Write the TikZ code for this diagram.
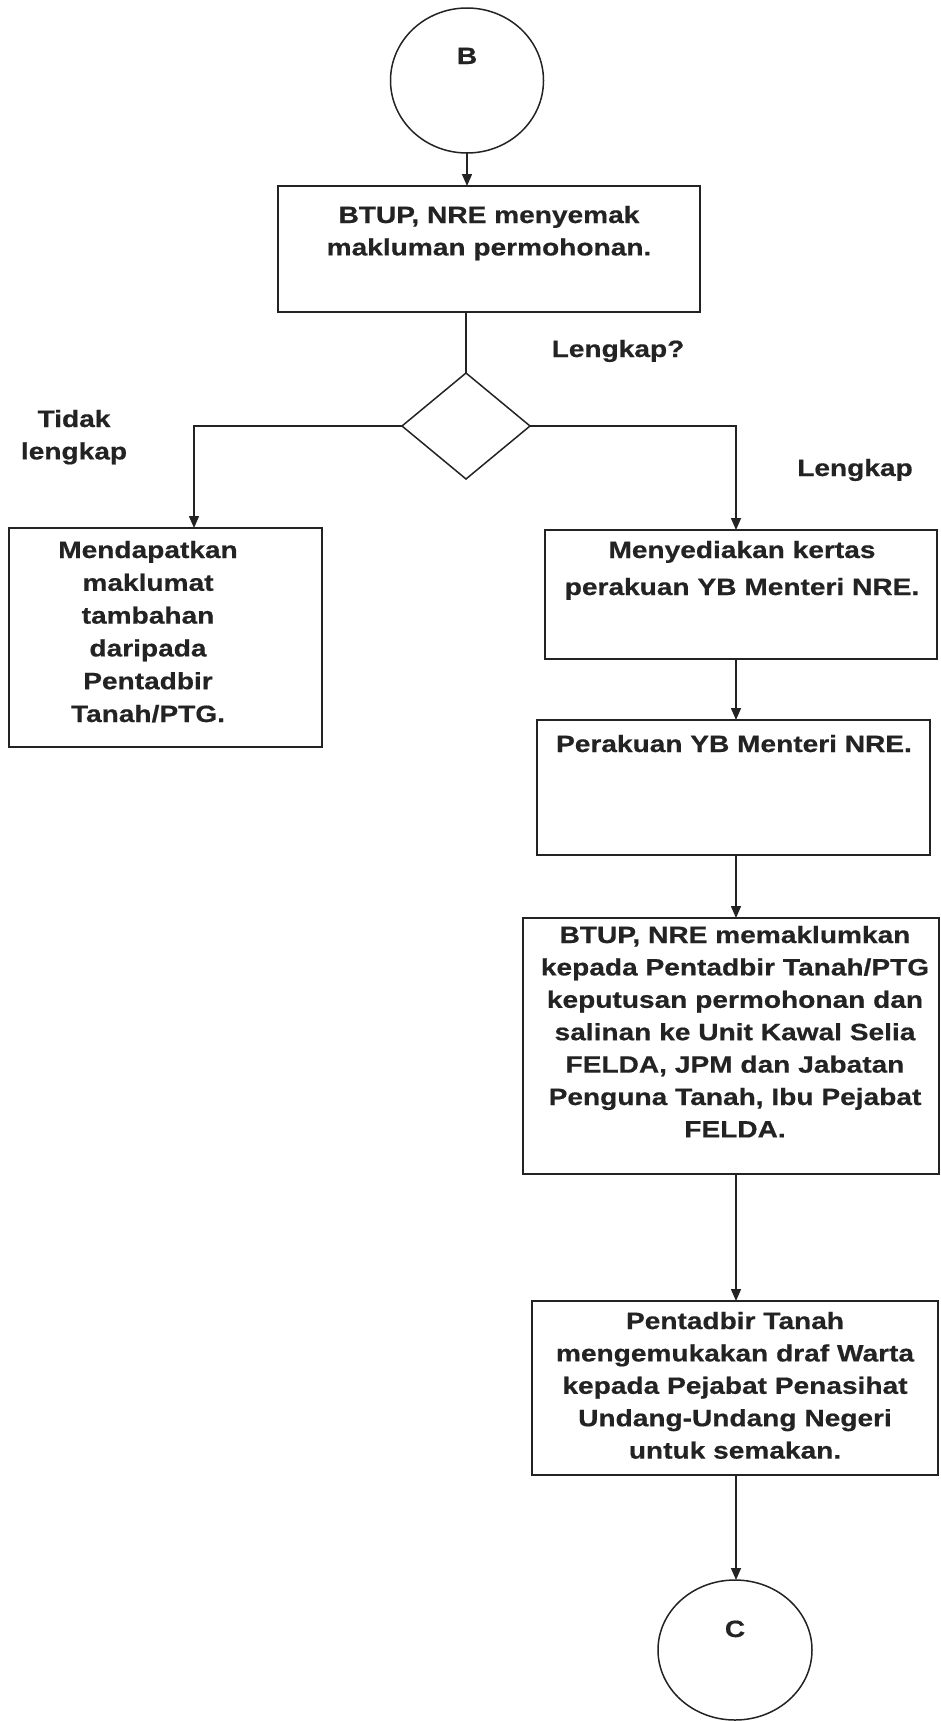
\documentclass[tikz,border=0pt]{standalone}
\usepackage{fontspec}
\newfontfamily\dfont{Liberation Sans}[FakeStretch=1.19,FakeBold=0.6]
\usetikzlibrary{arrows.meta,shapes.geometric}
\definecolor{ink}{RGB}{35,35,35}
\tikzset{
  every picture/.style={x=1pt,y=-1pt},
  shp/.style={draw=ink,line width=1.5pt,inner sep=0pt,outer sep=0pt},
  boxs/.style={shp,rectangle},
  ell/.style={shp,ellipse},
  dia/.style={shp,diamond},
  arr/.style={draw=ink,line width=1.5pt,-{Triangle[length=12pt,width=10pt]}},
  ln/.style={draw=ink,line width=1.5pt},
  txt/.style={text=ink,anchor=base,align=center,inner sep=0pt,
    font=\dfont\bfseries\fontsize{23.6}{32.4}\selectfont},
}
\begin{document}
\begin{tikzpicture}
\useasboundingbox (0,0) rectangle (940,1721);
% shapes
\node[ell,minimum width=153pt,minimum height=145pt] (B) at (467,80.5) {};
\node[boxs,minimum width=422pt,minimum height=126pt] (box1) at (489,249) {};
\node[dia,minimum width=128pt,minimum height=106pt] (d) at (466,426) {};
\node[boxs,minimum width=313pt,minimum height=219pt] (lbox) at (165.5,637.5) {};
\node[boxs,minimum width=392pt,minimum height=129pt] (box2) at (741,594.5) {};
\node[boxs,minimum width=393pt,minimum height=135pt] (box3) at (733.5,787.5) {};
\node[boxs,minimum width=416pt,minimum height=256pt] (box4) at (731,1046) {};
\node[boxs,minimum width=406pt,minimum height=174pt] (box5) at (735,1388) {};
\node[ell,minimum width=154pt,minimum height=140pt] (C) at (735,1650) {};
\coordinate (col) at (736,0);
\coordinate (lcol) at (194,0);
% connectors
\draw[arr] (B.south) -- (B.south |- box1.north);
\draw[ln] (d.north |- box1.south) -- (d.north);
\draw[arr] (d.west) -| (lbox.north -| lcol);
\draw[arr] (d.east) -| (box2.north -| col);
\draw[arr] (box2.south -| col) -- (box3.north -| col);
\draw[arr] (box3.south -| col) -- (box4.north -| col);
\draw[arr] (box4.south -| col) -- (box5.north -| col);
\draw[arr] (box5.south -| col) -- (C.north -| col);
% texts
\node[txt] (tB) at (467,64) {B};
\node[txt,text width=420pt] (t1) at (489,223) {BTUP, NRE menyemak\\makluman permohonan.};
\node[txt] (tq) at (618,357) {Lengkap?};
\node[txt,text width=200pt] (tno) at (74,427) {Tidak\\lengkap};
\node[txt] (tyes) at (855,476) {Lengkap};
\node[txt,text width=300pt,font=\dfont\bfseries\fontsize{23.6}{32.8}\selectfont] (tl) at (148,558) {Mendapatkan\\maklumat\\tambahan\\daripada\\Pentadbir\\Tanah/PTG.};
\node[txt,text width=400pt,font=\dfont\bfseries\fontsize{23.6}{37}\selectfont] (t2) at (742,558) {Menyediakan kertas\\perakuan YB Menteri NRE.};
\node[txt] (t3) at (734,752) {Perakuan YB Menteri NRE.};
\node[txt,text width=420pt] (t4) at (735,943) {BTUP, NRE memaklumkan\\kepada Pentadbir Tanah/PTG\\keputusan permohonan dan\\salinan ke Unit Kawal Selia\\FELDA, JPM dan Jabatan\\Penguna Tanah, Ibu Pejabat\\FELDA.};
\node[txt,text width=420pt] (t5) at (735,1329) {Pentadbir Tanah\\mengemukakan draf Warta\\kepada Pejabat Penasihat\\Undang-Undang Negeri\\untuk semakan.};
\node[txt] (tC) at (735,1637) {C};
\end{tikzpicture}
\end{document}
